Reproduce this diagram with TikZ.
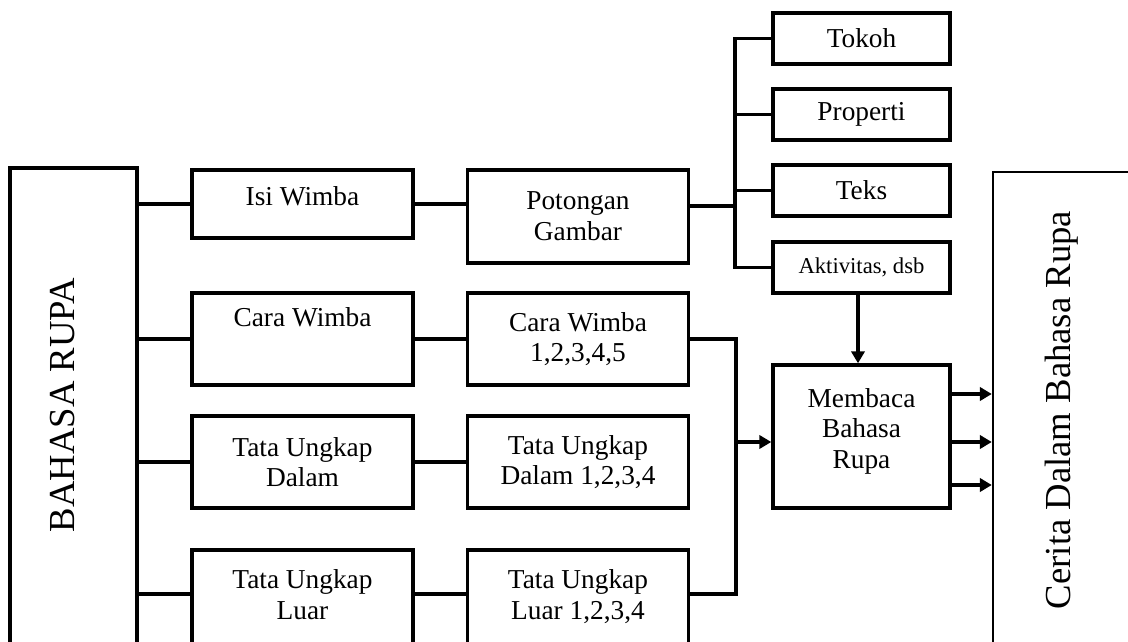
\documentclass[tikz,border=0pt]{standalone}
\usepackage{fontspec}
\setmainfont{Liberation Serif}
\usetikzlibrary{arrows.meta}

\begin{document}
\begin{tikzpicture}[x=0.75pt, y=-0.75pt,
            box/.style={draw, line width=2.6pt, align=center, inner sep=0pt,
                    font=\fontsize{20.5}{23}\selectfont},
            colbox/.style={box, minimum width=165.75pt, minimum height=69pt},
            subbox/.style={box, minimum width=132.75pt, minimum height=38.25pt},
            bigbox/.style={draw, rotate=90, inner sep=0pt, text height=18pt,
                    font=\fontsize{27.5}{30}\selectfont},
            line/.style={line width=2.6pt},
            arr/.style={line width=2.6pt, -{Triangle[length=9pt, width=10pt]}}
        ]
        \clip (0,0) rectangle (1128,642);

        % Big boxes on both sides
        \node[bigbox, line width=2.6pt, minimum width=361.5pt, minimum height=95.25pt,
            text depth=15.8pt] (bahasa) at (73.5,409) {\hspace*{6pt}BAHASA RUPA};
        \node[bigbox, line width=1.8pt, minimum width=357pt, minimum height=105pt,
            text depth=7.5pt] (cerita) at (1063,410) {Cerita Dalam Bahasa Rupa};

        % First column
        \node[colbox, minimum height=51pt, text height=13.2pt, text depth=10.5pt]
            (isi) at (302.5,204) {Isi Wimba};
        \node[colbox, text height=13.2pt, text depth=31.5pt]
            (cara) at (302.5,339) {Cara Wimba};
        \node[colbox] (dalam) at (302.5,462) {Tata Ungkap\\Dalam};
        \node[colbox, minimum height=75pt] (luar) at (302.5,600) {Tata Ungkap\\Luar\\[-15pt]};

        % Second column
        \node[colbox, minimum height=69.75pt] (pot) at (578,216.5) {Potongan\\Gambar};
        \node[colbox] (cara2) at (578,339) {Cara Wimba\\1,2,3,4,5};
        \node[colbox] (dalam2) at (578,462) {Tata Ungkap\\Dalam 1,2,3,4};
        \node[colbox, minimum height=75pt] (luar2) at (578,600) {Tata Ungkap\\Luar 1,2,3,4\\[-15pt]};

        % Parts of the picture cut
        \foreach \nm/\y/\txt in {tokoh/38.5/Tokoh, prop/114.5/Properti, teks/190.5/Teks} {
                \node[subbox] (\nm) at (861.5,\y) {\txt};
            }
        \node[subbox, font=\fontsize{17}{20}\selectfont] (akt) at (861.5,267.5) {Aktivitas, dsb};

        \node[box, minimum width=132.75pt, minimum height=107.25pt]
            (baca) at (861.5,436.5) {Membaca\\Bahasa\\Rupa\\[-11pt]};

        \coordinate (brk) at (735,206);
        \coordinate (join) at (736,442);

        % Connect the big box to the first column, and on to the second
        \foreach \a/\b in {isi/pot, cara/cara2, dalam/dalam2} {
                \draw[line] (bahasa.south |- \a.west) -- (\a.west);
                \draw[line] (\a.east) -- (\a.east -| \b.west);
            }
        \coordinate (low) at (0,594);
        \draw[line] (bahasa.south |- low) -- (luar.west |- low);
        \draw[line] (luar.east |- low) -- (luar2.west |- low);

        % Bracket for the parts
        \draw[line] (pot.east |- brk) -- (brk);
        \draw[line] (tokoh.west) -| (brk) |- (akt.west);
        \foreach \nm in {prop, teks} {
                \draw[line] (\nm.west -| brk) -- (\nm.west);
            }

        % Into the reading box
        \draw[line] (cara2.east) -| (join) |- (luar2.east |- low);
        \draw[arr] (join) -- (join -| baca.west);
        \draw[arr] (akt.south -| 858,0) -- (baca.north -| 858,0);

        % Out to the story
        \foreach \y in {394, 442, 485} {
                \draw[arr] (baca.east |- 0,\y) -- (cerita.north |- 0,\y);
            }
    \end{tikzpicture}
\end{document}
